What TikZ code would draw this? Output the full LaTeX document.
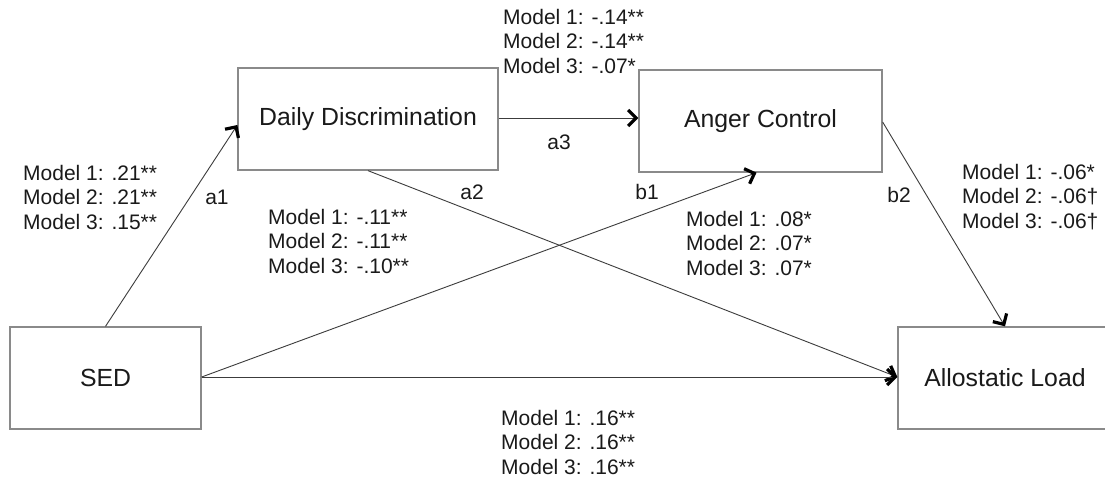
\documentclass[tikz,border=0pt]{standalone}
\usepackage{fontspec}
\setmainfont{Liberation Sans}
\usetikzlibrary{arrows.meta,calc}
\definecolor{boxgray}{HTML}{8A8A8A}
\definecolor{linegray}{HTML}{3C3C3C}
\definecolor{txt}{HTML}{1A1A1A}
\begin{document}
\begin{tikzpicture}[x=1pt,y=-1pt,
  varbox/.style={draw=boxgray, line width=1.3pt, minimum width=#1, minimum height=102pt, inner sep=0pt, text=txt, font=\fontsize{24.8}{30}\selectfont},
  path/.style={draw=linegray, line width=0.9pt, -{Straight Barb[length=8pt,width=16pt,line width=3.2pt,color=black]}},
  coef/.style={align=left, inner sep=0pt, anchor=west, text=txt, font=\fontsize{21}{24.5}\selectfont},
  plab/.style={inner sep=0pt, text=txt, font=\fontsize{21}{24.5}\selectfont}]
\useasboundingbox (0,0) rectangle (1105,480);
\fill[white] (0,0) rectangle (1105,480);
% boxes
\node[varbox=191pt] (SED) at (105.5,378) {SED};
\node[varbox=260pt] (DD) at (368,119) {Daily Discrimination};
\node[varbox=243pt] (AC) at (760.5,121) {Anger Control};
\node[varbox=214pt] (AL) at (1005,378) {Allostatic Load};
% paths
\draw[path] (SED.north) -- ([yshift=-6pt]DD.west);
\draw[path] ([yshift=1pt]DD.east) -- ([yshift=3pt]AC.west);
\draw[path] (DD.south) -- ([yshift=1pt]AL.west);
\draw[path] ([yshift=1pt]SED.east) -- ([xshift=-4pt]AC.south);
\draw[path] ([yshift=1pt]SED.east) -- ([yshift=1pt]AL.west);
\draw[path] ([yshift=-1pt]AC.east) -- (AL.north);
% path labels
\node[plab] (la1) at (217,197) {a1};
\node[plab] (la3) at (559,142) {a3};
\node[plab] (la2) at (472,192) {a2};
\node[plab] (lb1) at (647,192) {b1};
\node[plab] (lb2) at (899,195) {b2};
% coefficients
\node[coef] (ca1) at (23,197) {Model 1: .21**\\Model 2: .21**\\Model 3: .15**};
\node[coef] (ca3) at (503,41) {Model 1: -.14**\\Model 2: -.14**\\Model 3: -.07*};
\node[coef] (ca2) at (268,241) {Model 1: -.11**\\Model 2: -.11**\\Model 3: -.10**};
\node[coef] (cb1) at (686,243) {Model 1: .08*\\Model 2: .07*\\Model 3: .07*};
\node[coef] (cb2) at (962,197) {Model 1: -.06*\\Model 2: -.06†\\Model 3: -.06†};
\node[coef] (cc) at (501,442) {Model 1: .16**\\Model 2: .16**\\Model 3: .16**};
\end{tikzpicture}
\end{document}
